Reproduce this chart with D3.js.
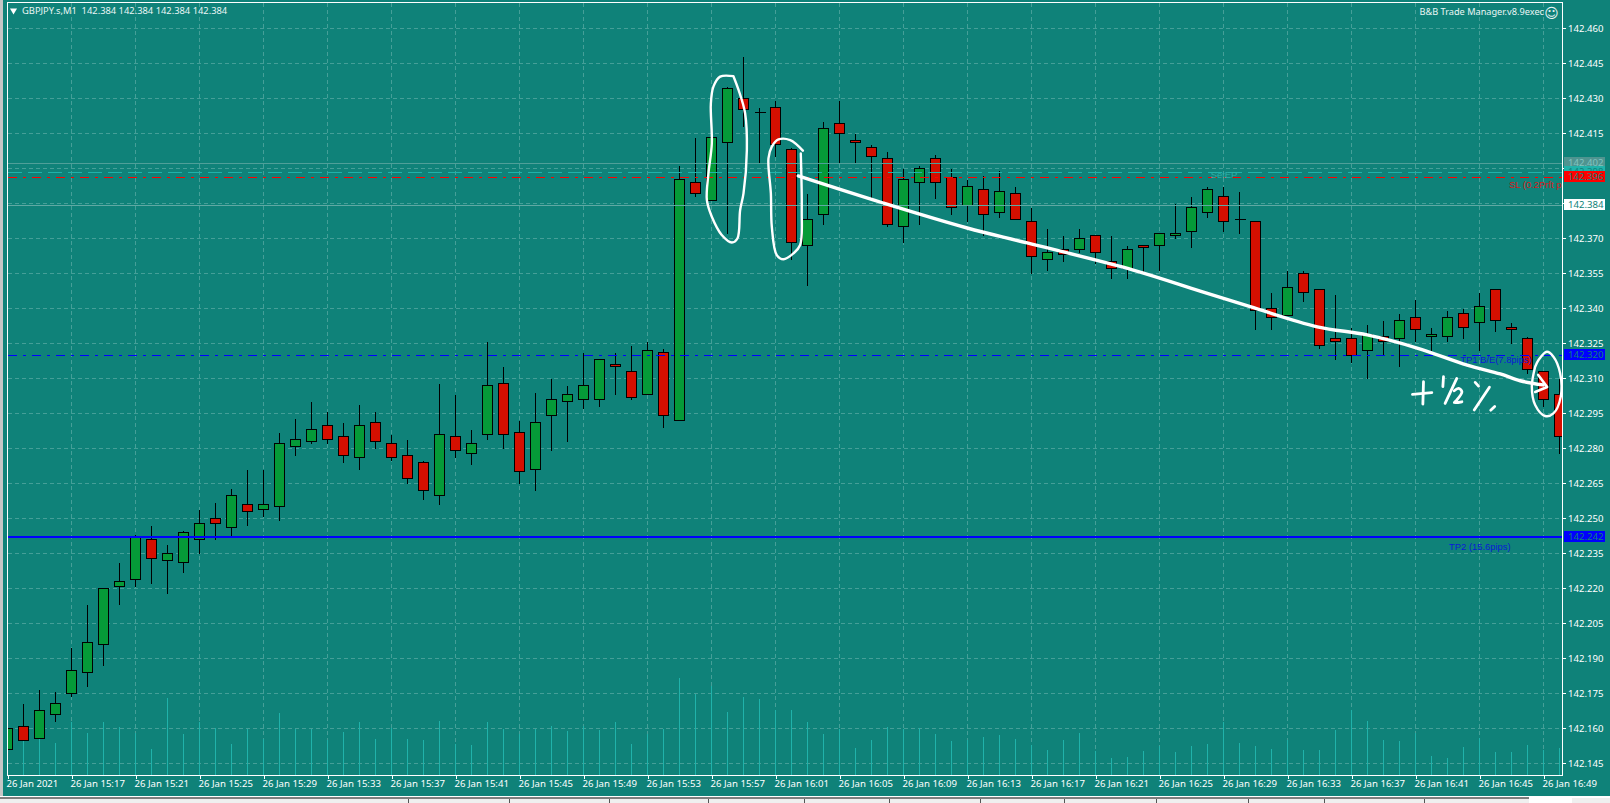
<!DOCTYPE html>
<html><head><meta charset="utf-8">
<script src="https://cdn.jsdelivr.net/npm/d3@7"></script>
<style>
html,body{margin:0;padding:0;background:#fff;overflow:hidden}
svg{display:block}
text{font-family:"Noto Sans",sans-serif;font-size:9.6px}
</style></head><body>
<svg id="c" width="1610" height="803"></svg>
<script>
const symbolTitle = "GBPJPY.s,M1  142.384 142.384 142.384 142.384";
const expertTitle = "B&B Trade Manager.v8.9exec";
const opens = [142.151,142.161,142.156,142.166,142.175,142.184,142.196,142.221,142.224,142.241,142.232,142.231,142.241,142.250,142.246,142.256,142.254,142.255,142.281,142.283,142.290,142.285,142.276,142.291,142.282,142.277,142.274,142.260,142.285,142.278,142.286,142.308,142.287,142.271,142.294,142.300,142.301,142.301,142.316,142.313,142.303,142.321,142.292,142.394,142.386,142.411,142.430,142.424,142.426,142.408,142.367,142.380,142.419,142.412,142.409,142.404,142.375,142.394,142.404,142.396,142.384,142.391,142.381,142.389,142.377,142.361,142.365,142.365,142.371,142.360,142.357,142.367,142.367,142.371,142.373,142.381,142.388,142.378,142.377,142.340,142.337,142.355,142.348,142.327,142.327,142.322,142.328,142.327,142.336,142.328,142.328,142.338,142.334,142.348,142.332,142.327,142.313,142.303];
const highs = [142.169,142.171,142.177,142.176,142.195,142.213,142.220,142.231,142.243,142.247,142.239,142.245,142.254,142.257,142.263,142.271,142.271,142.287,142.293,142.300,142.296,142.291,142.299,142.296,142.286,142.284,142.275,142.308,142.303,142.288,142.326,142.315,142.292,142.304,142.310,142.307,142.321,142.318,142.321,142.324,142.326,142.323,142.401,142.413,142.427,142.435,142.448,142.426,142.429,142.409,142.389,142.420,142.429,142.415,142.410,142.407,142.400,142.401,142.406,142.400,142.395,142.397,142.399,142.392,142.383,142.374,142.371,142.374,142.371,142.371,142.367,142.367,142.372,142.385,142.388,142.392,142.392,142.390,142.377,142.347,142.356,142.356,142.348,142.346,142.332,142.333,142.335,142.338,142.344,142.332,142.339,142.340,142.347,142.348,142.334,142.328,142.313,142.310];
const lows = [142.151,142.155,142.156,142.163,142.174,142.178,142.187,142.213,142.221,142.222,142.218,142.227,142.235,142.241,142.242,142.247,142.251,142.249,142.277,142.282,142.282,142.274,142.271,142.280,142.275,142.265,142.258,142.256,142.276,142.273,142.284,142.280,142.265,142.262,142.279,142.283,142.297,142.298,142.303,142.301,142.303,142.289,142.292,142.388,142.386,142.372,142.418,142.402,142.405,142.361,142.350,142.376,142.402,142.402,142.387,142.375,142.368,142.376,142.387,142.380,142.377,142.371,142.379,142.378,142.355,142.356,142.360,142.364,142.359,142.353,142.353,142.355,142.356,142.370,142.366,142.379,142.373,142.372,142.331,142.331,142.337,142.343,142.323,142.318,142.317,142.310,142.320,142.315,142.326,142.322,142.326,142.327,142.322,142.330,142.325,142.312,142.298,142.278];
const closes = [142.160,142.155,142.168,142.171,142.185,142.197,142.220,142.223,142.242,142.233,142.235,142.244,142.248,142.248,142.260,142.253,142.256,142.282,142.284,142.288,142.284,142.277,142.290,142.283,142.276,142.267,142.262,142.286,142.279,142.282,142.307,142.286,142.270,142.291,142.301,142.303,142.307,142.318,142.315,142.302,142.322,142.294,142.395,142.389,142.413,142.434,142.425,142.424,142.410,142.368,142.378,142.417,142.415,142.411,142.405,142.376,142.395,142.400,142.394,142.383,142.392,142.380,142.390,142.378,142.362,142.364,142.363,142.370,142.364,142.357,142.365,142.366,142.372,142.372,142.383,142.391,142.377,142.378,142.339,142.336,142.349,142.347,142.324,142.326,142.320,142.329,142.326,142.335,142.331,142.329,142.336,142.332,142.341,142.335,142.331,142.314,142.301,142.285];
const tickVolume = [24,35,44,32,53,42,53,48,42,26,77,41,53,47,31,46,36,62,46,46,35,43,53,36,47,36,35,54,31,30,53,46,41,46,49,44,49,45,53,31,41,46,97,81,89,63,78,76,65,65,53,41,46,27,35,48,46,47,41,34,35,38,40,36,30,25,35,42,24,17,18,24,29,23,29,31,53,32,29,26,35,25,25,45,65,54,35,34,42,19,17,28,37,23,23,30,25,27];
const priceTicks = [142.145,142.160,142.175,142.190,142.205,142.220,142.235,142.250,142.265,142.280,142.295,142.310,142.325,142.340,142.355,142.370,142.385,142.400,142.415,142.430,142.445,142.460];
const timeTickBars = d3.range(0,97,4);
const timeLabels = ["26 Jan 2021","26 Jan 15:17","26 Jan 15:21","26 Jan 15:25","26 Jan 15:29","26 Jan 15:33","26 Jan 15:37","26 Jan 15:41","26 Jan 15:45","26 Jan 15:49","26 Jan 15:53","26 Jan 15:57","26 Jan 16:01","26 Jan 16:05","26 Jan 16:09","26 Jan 16:13","26 Jan 16:17","26 Jan 16:21","26 Jan 16:25","26 Jan 16:29","26 Jan 16:33","26 Jan 16:37","26 Jan 16:41","26 Jan 16:45","26 Jan 16:49"];
const levelPrices = [142.402,142.398,142.396,142.384,142.320,142.242];
const levelColors = ["#4f9f99","#20b2aa","#ff0000","#5fa9a3","#0000ff","#0000ff"];
const levelDashes = [null,"14 6","9 6 3 6",null,"9 6 3 6",null];
const levelWidths = [1,1,1,1,1,2];
const tagFills = ["#4f9490","#20b2aa","#ff0000","#ffffff","#0000ff","#0000ff"];
const tagInks = ["#7fc4c0","#0f8279","#0f8279","#0f8279","#0f8279","#0f8279"];
const lineNotes = ["SL (0.2Prft p","TP1 B/E(7.8pips)","TP2 (15.6pips)","SetEP"];
const noteBars = [93.85,90.8,90.1,75.2];
const notePrices = [142.3926,142.3178,142.2376,142.397];
const noteColors = ["#d81818","#0a18d8","#0a18d8","#2fb0a8"];
// hand-drawn annotation strokes, in [bar index, price] terms
const trendStroke = [[49.42,142.3965],[54.73,142.3849],[59.98,142.3742],[63.73,142.3678],[70.36,142.3562],[74.54,142.3472],[77.67,142.3405],[81.86,142.3319],[84.98,142.3284],[88.1,142.3228],[91.23,142.3155],[93.3,142.3117],[94.54,142.3088],[95.98,142.307]];
const arrowStroke = [[95.67,142.3113],[96.23,142.3061],[95.48,142.304]];
const loopA = [[45.37,142.4392],[44.54,142.439],[44.12,142.4347],[43.96,142.4275],[44.02,142.4104],[43.81,142.3976],[43.71,142.3862],[44.02,142.379],[44.64,142.3712],[45.27,142.368],[45.62,142.3697],[45.79,142.3819],[46,142.389],[46.21,142.4076],[46.1,142.4233],[45.69,142.4333],[45.37,142.4392]];
const loopB = [[49.71,142.4073],[48.92,142.4118],[48.19,142.4121],[47.77,142.409],[47.56,142.404],[47.71,142.389],[47.77,142.3747],[48.08,142.3626],[48.5,142.3608],[49.12,142.3633],[49.54,142.3669],[49.64,142.3819],[49.58,142.4061]];
const loopC = [[95.48,142.3148],[95.27,142.3063],[95.48,142.2984],[96.1,142.2937],[96.62,142.2948],[97.08,142.302],[97.04,142.312],[96.62,142.3191],[96.21,142.3212],[95.69,142.3177],[95.48,142.3148]];
const inkGlyphs = [
 [[87.81,142.303],[89.02,142.3037]],
 [[88.5,142.3084],[88.46,142.2988]],
 [[89.75,142.3105],[89.71,142.3063]],
 [[90.58,142.3098],[89.85,142.2991]],
 [[90.42,142.3045],[90.69,142.3055],[90.9,142.3041],[90.58,142.3005],[90.42,142.2994],[90.9,142.2998]],
 [[92.62,142.306],[91.67,142.2963]],
 [[91.73,142.3081],[91.94,142.3065]],
 [[92.7,142.2962],[92.95,142.2978]]
];
const chromeSeparators = [408,509,609,708,804,889,980,1064,1156,1248,1324,1424];

const teal="#0f8279", gridC="#459f98", volC="#20b2aa", upC="#059a38", dnC="#d40f00";
const L=7.5,R=1562.5,T=2.5,B=775.5;
const x=d3.scaleLinear().domain([0,97]).range([7.5,1559.5]);
const y=d3.scaleLinear().domain([142.145,142.460]).range([763.3,27.6]);
const py=p=>Math.round(y(p))+.5;
const vol=d3.scaleLinear().domain([0,97]).range([775,678]);
const svg=d3.select("#c");

svg.append("rect").attr("width",1610).attr("height",796).attr("fill",teal);
svg.append("rect").attr("width",3).attr("height",797).attr("fill","#c6c6c6");
svg.append("rect").attr("y",796).attr("width",1529).attr("height",1.5).attr("fill","#ffffff");
svg.append("rect").attr("y",797.5).attr("width",1529).attr("height",1.2).attr("fill","#000000");
svg.append("rect").attr("y",798.7).attr("width",1529).attr("height",5).attr("fill","#efefef");
svg.append("g").selectAll("line").data(chromeSeparators).join("line")
 .attr("x1",d=>d+.5).attr("x2",d=>d+.5).attr("y1",799).attr("y2",803).attr("stroke","#555");
svg.append("rect").attr("x",1572).attr("y",798).attr("width",38).attr("height",5).attr("fill","#efefef");

svg.append("defs").append("clipPath").attr("id","plot").append("rect")
 .attr("x",L).attr("y",T).attr("width",R-L).attr("height",B-T);
const plot=svg.append("g").attr("clip-path","url(#plot)").attr("shape-rendering","crispEdges");

plot.append("g").selectAll("line").data(priceTicks).join("line")
 .attr("x1",L).attr("x2",R).attr("y1",py).attr("y2",py)
 .attr("stroke",gridC).attr("stroke-dasharray","4 3");
plot.append("g").selectAll("line").data(timeTickBars).join("line")
 .attr("x1",x).attr("x2",x).attr("y1",T).attr("y2",B)
 .attr("stroke",gridC).attr("stroke-dasharray","4 3");

plot.append("g").selectAll("line").data(tickVolume).join("line")
 .attr("x1",(d,i)=>x(i)).attr("x2",(d,i)=>x(i)).attr("y1",775).attr("y2",d=>vol(d))
 .attr("stroke",volC);

const idx=d3.range(opens.length);
plot.append("g").selectAll("line").data(idx).join("line")
 .attr("x1",x).attr("x2",x).attr("y1",i=>py(highs[i])).attr("y2",i=>py(lows[i]))
 .attr("stroke","#000");
plot.append("g").selectAll("line").data(idx.filter(i=>opens[i]===closes[i])).join("line")
 .attr("x1",i=>x(i)-5).attr("x2",i=>x(i)+6).attr("y1",i=>py(opens[i])).attr("y2",i=>py(opens[i]))
 .attr("stroke","#000");
plot.append("g").selectAll("rect").data(idx.filter(i=>opens[i]!==closes[i])).join("rect")
 .attr("x",i=>x(i)-5).attr("width",10)
 .attr("y",i=>py(Math.max(opens[i],closes[i])))
 .attr("height",i=>py(Math.min(opens[i],closes[i]))-py(Math.max(opens[i],closes[i])))
 .attr("fill",i=>closes[i]>opens[i]?upC:dnC).attr("stroke","#000");

plot.append("g").selectAll("line").data(levelPrices).join("line")
 .attr("x1",L).attr("x2",R)
 .attr("y1",(d,i)=>levelWidths[i]===2?Math.round(y(d)):py(d))
 .attr("y2",(d,i)=>levelWidths[i]===2?Math.round(y(d)):py(d))
 .attr("stroke",(d,i)=>levelColors[i]).attr("stroke-width",(d,i)=>levelWidths[i])
 .attr("stroke-dasharray",(d,i)=>levelDashes[i]);

plot.append("g").selectAll("text").data(lineNotes).join("text")
 .attr("x",(d,i)=>x(noteBars[i])).attr("y",(d,i)=>y(notePrices[i]))
 .attr("dy","0.35em").attr("fill",(d,i)=>noteColors[i])
 .style("font-family","'Liberation Sans',sans-serif").style("font-size","9.4px")
 .text(d=>d);

const axX=svg.append("g").attr("transform",`translate(0,${B})`)
 .call(d3.axisBottom(x).tickValues(timeTickBars).tickSize(3).tickFormat((d,i)=>timeLabels[i]));
const axY=svg.append("g").attr("transform",`translate(${R},0)`)
 .call(d3.axisRight(y).tickValues(priceTicks).tickSize(3).tickFormat(d3.format(".3f")));
axX.selectAll("line").attr("stroke","#fff").attr("shape-rendering","crispEdges");
axY.selectAll(".tick").attr("transform",d=>`translate(0,${py(d)})`);
axY.selectAll("line").attr("stroke","#fff").attr("shape-rendering","crispEdges");
axX.select(".domain").remove(); axY.select(".domain").remove();
axX.selectAll("text").attr("text-anchor","start").attr("y",5).attr("dy","0.71em").attr("fill","#fff").attr("dx",-1.5);
axY.selectAll("text").attr("x",5.5).attr("dy","0.35em").attr("fill","#fff");
svg.append("rect").attr("x",L).attr("y",T).attr("width",R-L).attr("height",B-T)
 .attr("fill","none").attr("stroke","#fff").attr("shape-rendering","crispEdges");

const tags=svg.append("g");
levelPrices.forEach((p,i)=>{
  const g=tags.append("g").attr("transform",`translate(1564,${Math.round(y(p))-0.5})`);
  g.append("rect").attr("y",-5.5).attr("width",41).attr("height",11).attr("fill",tagFills[i]);
  g.append("text").attr("x",4).attr("dy","0.35em").attr("fill",tagInks[i]).text(d3.format(".3f")(p));
});

const ink=d3.line().x(d=>x(d[0])).y(d=>y(d[1])).curve(d3.curveCatmullRom.alpha(.5));
const strokes=svg.append("g").attr("fill","none").attr("stroke","#fff").attr("stroke-linecap","round").attr("stroke-linejoin","round");
strokes.append("path").attr("d",ink(trendStroke)).attr("stroke-width",3.4);
strokes.append("path").attr("d",d3.line().x(d=>x(d[0])).y(d=>y(d[1]))(arrowStroke)).attr("stroke-width",2.6);
[loopA,loopB,loopC].forEach(l=>strokes.append("path").attr("d",ink(l)).attr("stroke-width",2.4));
inkGlyphs.forEach(g=>strokes.append("path").attr("d",ink(g)).attr("stroke-width",2.8));

svg.append("path").attr("d",d3.symbol(d3.symbolTriangle,22)()).attr("fill","#fff")
 .attr("transform","translate(13.5,10.5) rotate(180)");
svg.append("text").attr("x",22).attr("y",14).attr("fill","#eaf6f5").style("white-space","pre").style("font-size","9.35px").text(symbolTitle);
svg.append("text").attr("x",1544).attr("y",15).attr("text-anchor","end").attr("fill","#eaf6f5").style("font-size","9.2px").text(expertTitle);
svg.append("text").attr("x",1551.5).attr("y",17.5).attr("text-anchor","middle").attr("fill","#eaf6f5")
 .style("font-family","'DejaVu Sans'").style("font-size","14px").text("\u263A");
</script></body></html>
